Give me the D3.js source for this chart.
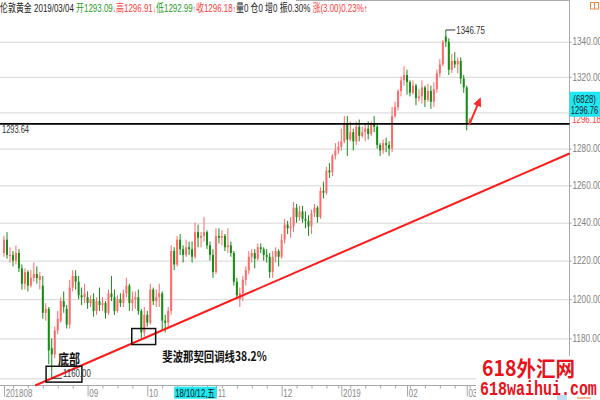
<!DOCTYPE html>
<html><head><meta charset="utf-8">
<script src="https://cdn.jsdelivr.net/npm/d3@7/dist/d3.min.js"></script>
<style>
html,body{margin:0;padding:0;background:#fff;}
svg{display:block;font-family:"Liberation Sans","Noto Sans CJK SC",sans-serif;}
</style></head><body>
<svg id="c" width="600" height="400"></svg>
<script>
// ---- data (daily candles, 2018-07-25 .. 2019-03-04) ----
const opens = [1224,1231,1223,1223,1220,1224,1216,1208,1214,1207,1211,1213,1210,1207,1193,1195,1175,1172,1184,1189,1199,1195,1187,1206,1212,1209,1202,1201,
1201,1198,1200,1194,1199,1197,1198,1193,1203,1201,1194,1200,1198,1203,1207,1198,1200,1201,1194,1183,
1192,1188,1205,1199,1201,1203,1189,1188,1194,1225,1218,1231,1226,1223,1227,1226,1222,1235,1232,1233,1235,1228,1223,
1214,1233,1232,1233,1227,1228,1224,1209,1200,1203,1210,1215,1222,1224,1221,1227,1226,1223,1222,1214,1222,1225,
1222,1231,1239,1237,1238,1248,1243,1246,1242,1241,1238,1245,1248,1243,1257,1256,1268,1267,1276,1279,
1281,1284,1294,1285,1289,1284,1292,1287,1289,1291,1288,1294,1292,1282,1279,1283,1282,1280,1298,1303,1312,1318,
1321,1317,1311,1315,1308,1309,1314,1307,1312,1306,1313,1322,1327,1343,1340,1324,1329,1327,1329,1319,
1314,1293.09];
const highs = [1233,1235,1227,1225,1228,1226,1218,1216,1215,1215,1219,1217,1214,1212,1198,1196,1180,1186,1194,1201,1204,1197,1210,1215,1215,1212,1206,1208,
1204,1202,1203,1201,1206,1201,1199,1205,1212,1205,1202,1203,1205,1211,1208,1204,1204,1205,1195,1196,
1194,1208,1206,1205,1208,1204,1192,1196,1228,1227,1233,1234,1228,1231,1230,1230,1240,1239,1235,1243,1236,1230,1226,
1237,1237,1236,1234,1237,1230,1225,1211,1206,1212,1217,1225,1226,1226,1229,1229,1227,1226,1224,1225,1227,1226,
1234,1242,1241,1243,1251,1250,1249,1249,1246,1244,1247,1250,1249,1259,1262,1270,1272,1277,1283,1284,
1291,1298,1298,1295,1291,1295,1296,1292,1294,1295,1295,1298,1293,1283,1285,1286,1284,1303,1306,1313,1320,1326,
1324,1318,1318,1316,1313,1318,1315,1316,1315,1317,1324,1330,1341,1346.75,1342,1333,1334,1331,1331,1321,
1315,1296.91];
const lows = [1222,1221,1219,1217,1218,1214,1205,1205,1204,1206,1209,1208,1205,1190,1189,1167,1160,1170,1182,1188,1193,1185,1185,1204,1205,1200,1197,1198,
1195,1196,1191,1192,1194,1194,1190,1192,1199,1192,1193,1196,1196,1201,1194,1194,1195,1192,1180,1181,
1186,1187,1197,1196,1196,1184,1183,1185,1192,1215,1217,1223,1219,1222,1223,1219,1221,1227,1227,1230,1226,1220,1211,
1213,1229,1228,1225,1224,1222,1207,1200,1196,1199,1207,1213,1219,1216,1220,1224,1220,1219,1211,1211,1219,1217,
1221,1229,1234,1232,1235,1240,1241,1240,1237,1233,1234,1243,1240,1242,1253,1255,1264,1265,1274,1277,
1279,1283,1276,1284,1279,1282,1284,1286,1284,1285,1287,1289,1280,1276,1277,1278,1276,1278,1297,1301,1309,1315,
1310,1309,1310,1304,1306,1305,1303,1306,1302,1303,1311,1320,1326,1337,1321,1322,1325,1322,1316,1311,
1290,1292.99];
const closes = [1231,1223,1223,1220,1224,1216,1208,1214,1207,1211,1213,1211,1212,1193,1195,1174,1172,1184,1190,1199,1196,1187,1206,1212,1209,1202,1201,1203,
1198,1200,1194,1199,1197,1198,1193,1203,1201,1194,1200,1198,1203,1207,1198,1200,1201,1194,1183,1192,
1188,1205,1199,1201,1203,1189,1188,1194,1225,1218,1231,1226,1223,1227,1226,1222,1235,1232,1233,1235,1228,1223,1214,
1233,1232,1233,1227,1228,1224,1209,1202,1203,1210,1215,1222,1224,1221,1227,1226,1223,1222,1214,1222,1225,1222,
1231,1239,1237,1238,1248,1243,1246,1242,1241,1238,1245,1248,1243,1257,1256,1268,1267,1276,1279,1281,
1284,1294,1285,1289,1284,1292,1287,1289,1291,1288,1294,1292,1282,1279,1283,1282,1280,1298,1303,1312,1318,1321,
1317,1311,1315,1308,1309,1314,1307,1312,1306,1313,1322,1327,1340,1340,1324,1329,1327,1329,1319,1314,
1293.2,1296.18];

const monthTickIdx = [0,28,48,71,93,113,135,155];
const monthTickLabels = ["201808","09","10","11","12","2019","02","03"];
const weekTickIdx = [3,8,13,18,23,33,38,43,53,58,63,68,73,78,83,88,98,103,108,112,116,121,126,131,136,141,146,151,156];
const priceTicks = [1340,1320,1300,1280,1260,1240,1220,1200,1180,1160];
const hiddenPriceLabels = [1300,1160]; // covered by the price box / watermark in the reference

const supportLevel = 1293.64;
const peakIdx = 148, peakValue = 1346.75;
const lowIdx = 16, lowValue = 1160.00;
const trendAnchors = [[16,1160],[156,1253.8]];
const boxes = [[14.1,26.1,1158.1,1166.0],[42.8,50.8,1176.9,1185.0]];
const arrowPts = [[155.8,1293.0],[159.7,1308.5]];
const cursorIdx = 57, cursorLabel = "18/10/12,五";
const cursorPrice = 1296.76, cursorVol = "(6828)";
const lastClose = 1296.18;

// ---- layout ----
const svg = d3.select("#c");
const plotRight = 569.5, axisY = 385.5;
const x = d3.scaleLinear().domain([0, opens.length-1]).range([4, 469.7]);
const y = d3.scaleLog().domain([1160,1340]).range([378.3, 41.7]);
const upC = "#ff6a6a", dnC = "#168c16";

function squeeze(parent, str, x0, yb, width, attrs){
  const g = parent.append("g");
  const t = g.append("text").text(str);
  for (const k in attrs) t.attr(k, attrs[k]);
  const w = t.node().getComputedTextLength();
  g.attr("transform", `translate(${x0},${yb}) scale(${width/w},1)`);
  return t;
}

// grid
const grid = svg.append("g").call(d3.axisLeft(y).tickValues(priceTicks).tickSize(-plotRight).tickFormat(""));
grid.select(".domain").remove();
grid.selectAll("line").attr("stroke","#d6d6d6");

// top border
svg.append("line").attr("x1",296).attr("x2",plotRight).attr("y1",0.5).attr("y2",0.5).attr("stroke","#aaa");

// right axis
const ry = svg.append("g").attr("transform",`translate(${plotRight},0)`)
  .call(d3.axisRight(y).tickValues(priceTicks).tickSize(2).tickPadding(1)
    .tickFormat(d=>hiddenPriceLabels.includes(d)?"":d.toFixed(2)));
ry.select(".domain").remove();
ry.selectAll("line").attr("stroke","#999");
ry.selectAll("text").attr("font-size",10).attr("fill","#808080")
  .attr("font-family","Liberation Sans").attr("transform","scale(0.82,1)").attr("x",3/0.82);
svg.append("line").attr("x1",plotRight).attr("x2",plotRight).attr("y1",0).attr("y2",axisY).attr("stroke","#a8a8a8");

// bottom axis
svg.append("line").attr("x1",0).attr("x2",plotRight).attr("y1",axisY).attr("y2",axisY).attr("stroke","#a8a8a8");
const bxm = svg.append("g").attr("transform",`translate(0,${axisY})`)
  .call(d3.axisBottom(x).tickValues(weekTickIdx).tickSize(3).tickFormat(""));
bxm.select(".domain").remove();
bxm.selectAll("line").attr("stroke","#a8a8a8");
const bx = svg.append("g").attr("transform",`translate(0,${axisY})`)
  .call(d3.axisBottom(x).tickValues(monthTickIdx).tickSize(11).tickFormat((d,i)=>monthTickLabels[i]));
bx.select(".domain").remove();
bx.selectAll("line").attr("stroke","#a8a8a8");
bx.selectAll("text").attr("font-size",10).attr("fill","#888").attr("text-anchor","start")
  .attr("y",11.2).attr("dy",0).attr("x",1.2/0.8).attr("transform","scale(0.8,1)")
  .attr("font-family","Liberation Sans");

// candles
const data = opens.map((o,i)=>({i,o,h:highs[i],l:lows[i],c:closes[i]}));
const cg = svg.append("g");
cg.selectAll("line").data(data).join("line")
  .attr("x1",d=>x(d.i)).attr("x2",d=>x(d.i))
  .attr("y1",d=>y(d.h)).attr("y2",d=>y(d.l))
  .attr("stroke",d=>d.c>=d.o?upC:dnC).attr("stroke-width",1);
cg.selectAll("rect").data(data).join("rect")
  .attr("x",d=>x(d.i)-1).attr("width",2)
  .attr("y",d=>y(Math.max(d.o,d.c)))
  .attr("height",d=>Math.max(1,Math.abs(y(d.o)-y(d.c))))
  .attr("fill",d=>d.c>=d.o?upC:dnC);

// support line
svg.append("line").attr("x1",0).attr("x2",plotRight).attr("y1",y(supportLevel)).attr("y2",y(supportLevel))
  .attr("stroke","#000").attr("stroke-width",1.6);
squeeze(svg, supportLevel.toFixed(2), 2, y(supportLevel)+9.5, 27, {"font-size":10,"fill":"#333"});

// trend line
{
  const [a,b] = trendAnchors;
  const ax=x(a[0]), ay=y(a[1]), bxp=x(b[0]), byp=y(b[1]);
  const m=(byp-ay)/(bxp-ax);
  const xs = ax + (axisY-ay)/m;
  svg.append("line").attr("x1",xs).attr("y1",axisY).attr("x2",plotRight).attr("y2",ay+m*(plotRight-ax))
    .attr("stroke","#ff1a1a").attr("stroke-width",2);
}

// boxes
svg.append("g").selectAll("rect").data(boxes).join("rect")
  .attr("x",d=>x(d[0])).attr("width",d=>x(d[1])-x(d[0]))
  .attr("y",d=>y(d[3])).attr("height",d=>y(d[2])-y(d[3]))
  .attr("fill","none").attr("stroke","#111").attr("stroke-width",1.5);

// peak / low markers
svg.append("line").attr("x1",x(peakIdx)).attr("x2",x(peakIdx)+9.5).attr("y1",y(peakValue)).attr("y2",y(peakValue)).attr("stroke","#333");
squeeze(svg, peakValue.toFixed(2), x(peakIdx)+10.5, y(peakValue)+4.5, 28.5, {"font-size":10.5,"fill":"#333"});
svg.append("line").attr("x1",x(lowIdx)).attr("x2",x(lowIdx)+10).attr("y1",y(lowValue)).attr("y2",y(lowValue)).attr("stroke","#333");
squeeze(svg, lowValue.toFixed(2), x(lowIdx)+11.3, y(lowValue)-1.2, 27.7, {"font-size":11,"fill":"#333"});

// annotations
squeeze(svg, "底部", x(boxes[0][0])+12, 363.5, 22, {"font-size":14,"font-weight":"bold","fill":"#111","font-family":"Noto Sans CJK SC"});
squeeze(svg, "斐波那契回调线38.2%", 162.3, 360.8, 104.5, {"font-size":13,"font-weight":"bold","fill":"#111","font-family":"Noto Sans CJK SC"});

// arrow
{
  const [p,q] = arrowPts;
  const x1=x(p[0]), y1=y(p[1]), x2=x(q[0]), y2=y(q[1]);
  const dx=x2-x1, dy=y2-y1, L=Math.hypot(dx,dy), ux=dx/L, uy=dy/L;
  const hl=9, hw=4.2;
  const bx0=x2-ux*hl, by0=y2-uy*hl;
  svg.append("line").attr("x1",x1).attr("y1",y1).attr("x2",bx0+ux).attr("y2",by0+uy)
    .attr("stroke","#ff2a2a").attr("stroke-width",2);
  svg.append("path").attr("d",`M${x2},${y2}L${bx0-uy*hw},${by0+ux*hw}L${bx0+uy*hw},${by0-ux*hw}Z`).attr("fill","#ff2a2a");
}

// right side price labels
squeeze(svg, lastClose.toFixed(2), 572, y(lastClose)+4.2, 29, {"font-size":10,"fill":"#ff3b3b"});
{
  const by = y(cursorPrice)-1.5;
  svg.append("rect").attr("x",plotRight).attr("y",by-25).attr("width",600-plotRight).attr("height",25).attr("fill","#1de8f4");
  squeeze(svg, cursorVol, 573.3, by-14.2, 22.7, {"font-size":10,"fill":"#222"});
  squeeze(svg, cursorPrice.toFixed(2), 570.8, by-2.8, 27.6, {"font-size":10,"fill":"#222"});
}

// cursor date label
svg.append("rect").attr("x",x(cursorIdx)).attr("y",386.7).attr("width",42.6).attr("height",12).attr("fill","#1de8f4");
squeeze(svg, cursorLabel, x(cursorIdx)+1, 396.5, 40, {"font-size":10,"fill":"#111"});

// header
{
  const segs = [["伦敦黄金 2019/03/04 ","#222"],["开1293.09","#1f9e1f"],["↓","#ff3b3b"],["高1296.91","#ff3b3b"],["↓","#ff3b3b"],
    ["低1292.99","#1f9e1f"],["↑","#ff3b3b"],["收1296.18","#ff3b3b"],["↑","#ff3b3b"],["量0 仓0 增0 振0.30% ","#222"],["涨(3.00)0.23%↑","#ff3b3b"]];
  const g = svg.append("g");
  const t = g.append("text").attr("font-size",11);
  segs.forEach(s=>t.append("tspan").text(s[0]).attr("fill",s[1]).attr("font-size",s[0].length===1?9:11));
  const w = t.node().getComputedTextLength();
  g.attr("transform",`translate(0,11.5) scale(${368/w},1)`);
}
// top right icon
svg.append("rect").attr("x",590.5).attr("y",2.5).attr("width",8).attr("height",6.5).attr("fill","none").attr("stroke","#f08a3c");
svg.append("line").attr("x1",594.5).attr("x2",594.5).attr("y1",2.5).attr("y2",9).attr("stroke","#f08a3c");

// watermark
svg.append("rect").attr("x",476).attr("y",356).attr("width",124).attr("height",44).attr("fill","#fff");
squeeze(svg, "618外汇网", 482, 375.5, 93, {"font-size":21,"font-weight":"bold","fill":"#e8121c","font-family":"Noto Sans CJK SC"});
squeeze(svg, "618waihui.com", 480, 394.5, 117, {"font-size":20,"font-weight":"bold","fill":"#e8121c","font-family":"Liberation Mono"});
svg.append("rect").attr("x",557).attr("y",395).attr("width",10).attr("height",5).attr("fill","#c2dcf4");
svg.append("rect").attr("x",577).attr("y",397).attr("width",14).attr("height",2).attr("fill","#f6b890");
</script>
</body></html>
